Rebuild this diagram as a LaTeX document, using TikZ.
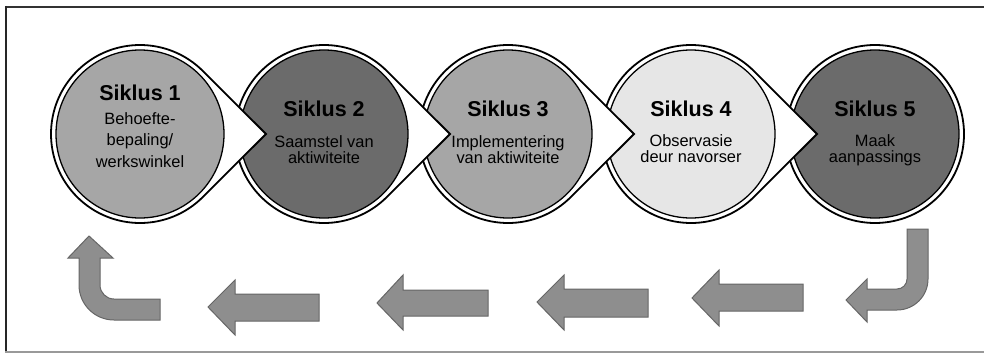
\documentclass[tikz,border=0pt]{standalone}
\usepackage{fontspec}
\setmainfont{Liberation Sans}
\usepackage{tikz}
\usepackage{xcolor}
\definecolor{midgrey}{HTML}{A6A6A6}
\definecolor{darkgrey}{HTML}{6B6B6B}
\definecolor{lightgrey}{HTML}{E6E6E6}
\definecolor{arrowgrey}{HTML}{8E8E8E}
\definecolor{arrowedge}{HTML}{666666}

\begin{document}
\begin{tikzpicture}[x=1pt,y=1pt,yscale=-1,xscale=1,
  drop/.style={draw=black, line width=1.8pt, fill=white},
  disc/.style={circle, draw=black, line width=1.3pt, minimum size=168pt, inner sep=0pt},
  title/.style={font=\fontsize{21.5}{24}\selectfont\bfseries, anchor=base, inner sep=0pt},
  body/.style={font=\fontsize{16.4}{16}\selectfont, align=center, anchor=base, inner sep=0pt},
  blockarrow/.style={draw=arrowedge, line width=1pt, fill=arrowgrey, line join=miter}]
\useasboundingbox (0,0) rectangle (984,353);

%Frame
\draw [line width=2.5pt, color=black!80] (5,7) -- (984,7) ;
\draw [line width=2.7pt, color=black!85] (6,6) -- (6,353) ;
\draw [line width=1.2pt, color=black!40] (5,352) -- (984,352) ;

%Shape: Circle 5
\draw [drop] (875,134) circle [radius=89] ;
\node [disc, fill=darkgrey] (s5) at (875,134) {} ;
%Shape: Circle 4 with pointer
\draw [drop] (691,134) ++(45:89) arc [start angle=45, end angle=315, radius=89] -- (817,134) -- cycle ;
\node [disc, fill=lightgrey] (s4) at (691,134) {} ;
%Shape: Circle 3 with pointer
\draw [drop] (508,134) ++(45:89) arc [start angle=45, end angle=315, radius=89] -- (634,134) -- cycle ;
\node [disc, fill=midgrey] (s3) at (508,134) {} ;
%Shape: Circle 2 with pointer
\draw [drop] (324,134) ++(45:89) arc [start angle=45, end angle=315, radius=89] -- (450,134) -- cycle ;
\node [disc, fill=darkgrey] (s2) at (324,134) {} ;
%Shape: Circle 1 with pointer
\draw [drop] (140,134) ++(45:89) arc [start angle=45, end angle=315, radius=89] -- (266,134) -- cycle ;
\node [disc, fill=midgrey] (s1) at (140,134) {} ;

% Text Node
\node [title] (t1) at (140,100) {Siklus 1};
\node [body, font=\fontsize{16.4}{21.5}\selectfont] (b1) at (140,167) {Behoefte-\\bepaling/\\werkswinkel};
% Text Node
\node [title] (t2) at (324,116) {Siklus 2};
\node [body] (b2) at (324,163) {Saamstel van\\aktiwiteite};
% Text Node
\node [title] (t3) at (508,116) {Siklus 3};
\node [body] (b3) at (508,163) {Implementering\\van aktiwiteite};
% Text Node
\node [title] (t4) at (691,116) {Siklus 4};
\node [body] (b4) at (691,162) {Observasie\\deur navorser};
% Text Node
\node [title] (t5) at (875,116) {Siklus 5};
\node [body] (b5) at (875,162) {Maak\\aanpassings};

%Shape: Up-turn Arrow
\draw [blockarrow] (89,236) -- (113,258) -- (100,258) -- (100,285) arc [start angle=180, end angle=90, radius=14] -- (160,299) -- (160,320) -- (114,320) arc [start angle=90, end angle=180, radius=35] -- (79,258) -- (68,258) -- cycle ;
%Shape: Left Arrow
\draw [blockarrow] (208,307) -- (235,280) -- (235,294) -- (319,294) -- (319,321) -- (235,321) -- (235,335) -- cycle ;
%Shape: Left Arrow
\draw [blockarrow] (377,303) -- (403,275) -- (403,290) -- (488,290) -- (488,316) -- (403,316) -- (403,330) -- cycle ;
%Shape: Left Arrow
\draw [blockarrow] (537,302) -- (564,275) -- (564,289) -- (648,289) -- (648,317) -- (564,317) -- (564,330) -- cycle ;
%Shape: Left Arrow
\draw [blockarrow] (692,298) -- (719,270) -- (719,284) -- (803,284) -- (803,311) -- (719,311) -- (719,326) -- cycle ;
%Shape: Down-turn Arrow
\draw [blockarrow] (907,229) -- (928,229) -- (928,279) arc [start angle=0, end angle=90, radius=31] -- (867,310) -- (867,322) -- (846,300) -- (867,279) -- (867,289) -- (897,289) arc [start angle=90, end angle=0, radius=10] -- cycle ;

\end{tikzpicture}
\end{document}
